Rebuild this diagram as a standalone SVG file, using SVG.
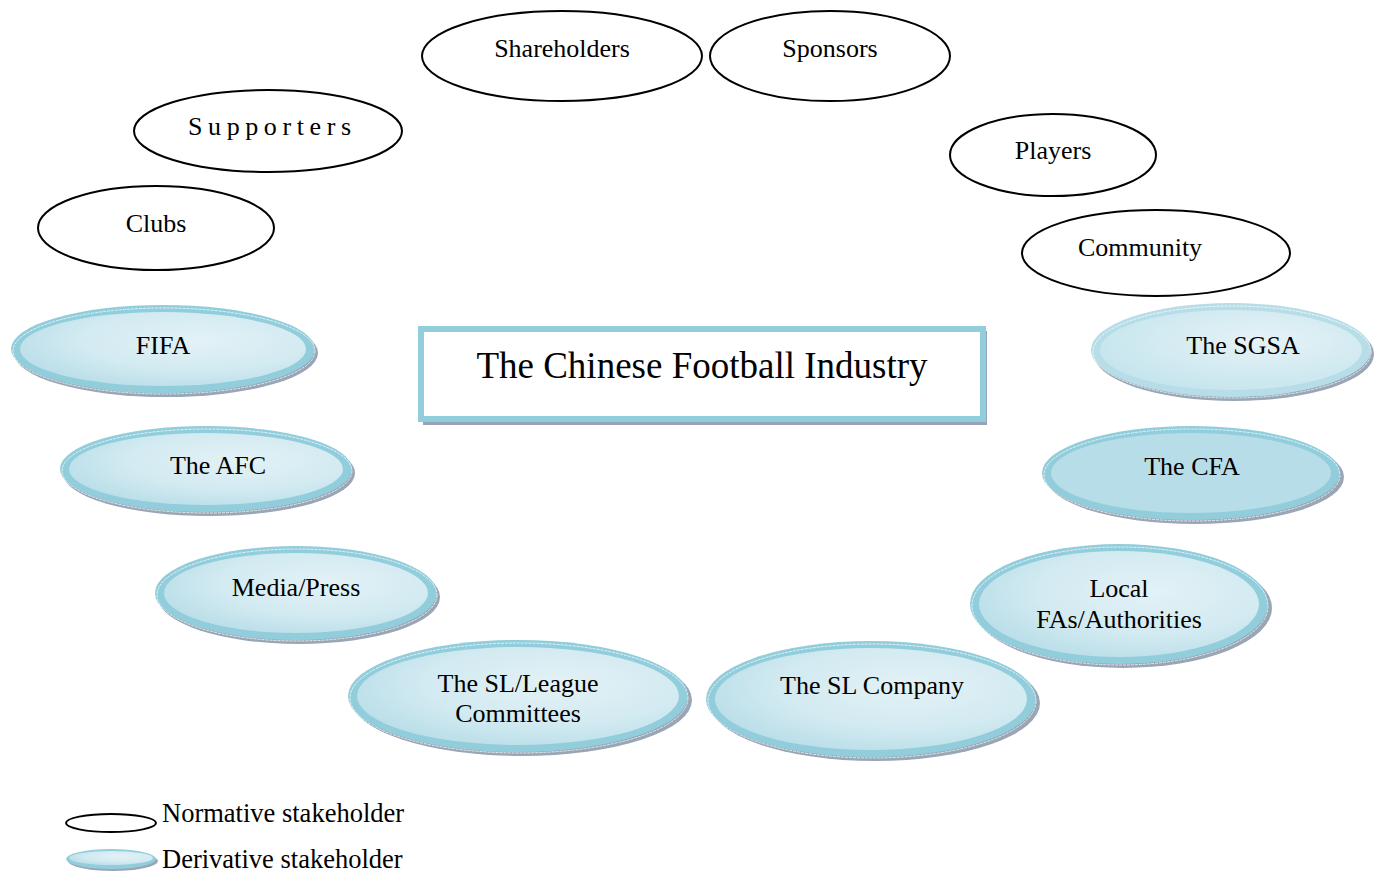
<svg xmlns="http://www.w3.org/2000/svg" width="1384" height="872" viewBox="0 0 1384 872">
<style>
text{font-family:"Liberation Serif","Times New Roman",serif;font-size:26px;fill:#000;text-anchor:middle}
.norm{fill:#fff;stroke:#000;stroke-width:2}
.shadow{fill:#98a6b6}
.ring{fill:#92cddc}
.hl{fill:none;stroke:#fff;stroke-width:1;stroke-dasharray:3 1;opacity:0.7}
.inner{fill:url(#g)}
</style>
<defs>
<radialGradient id="g" cx="0.62" cy="0.38" r="0.75">
<stop offset="0" stop-color="#e3f2f6"/>
<stop offset="0.55" stop-color="#d2eaf1"/>
<stop offset="1" stop-color="#b3dbe6"/>
</radialGradient>
<radialGradient id="g2" cx="0.62" cy="0.38" r="0.75">
<stop offset="0" stop-color="#e6f3f7"/>
<stop offset="1" stop-color="#c2e3ec"/>
</radialGradient>
</defs>

<g id="shareholders"><ellipse class="norm" cx="562" cy="56" rx="140" ry="45"/><text x="562" y="57">Shareholders</text></g>
<g id="sponsors"><ellipse class="norm" cx="830" cy="56" rx="120" ry="45"/><text x="830" y="57">Sponsors</text></g>
<g id="supporters"><ellipse class="norm" cx="268" cy="131" rx="134" ry="41"/><text x="188" y="135" style="text-anchor:start;letter-spacing:5.6px">Supporters</text></g>
<g id="clubs"><ellipse class="norm" cx="156" cy="228" rx="118" ry="42"/><text x="156" y="232">Clubs</text></g>
<g id="players"><ellipse class="norm" cx="1053" cy="155" rx="103" ry="41"/><text x="1053" y="159">Players</text></g>
<g id="community"><ellipse class="norm" cx="1156" cy="253" rx="134" ry="43"/><text x="1140" y="256">Community</text></g>

<g id="industry">
<rect x="423" y="331" width="564" height="94" fill="#97a3b8"/>
<rect x="421" y="329" width="562" height="90" fill="#fff" stroke="#92cddc" stroke-width="6"/>
<text x="702" y="378" style="font-size:37px">The Chinese Football Industry</text>
</g>

<g id="fifa">
<ellipse class="shadow" cx="166" cy="353" rx="152" ry="44"/>
<ellipse class="ring" cx="163" cy="349" rx="152" ry="44"/>
<ellipse class="hl" cx="164" cy="351" rx="151" ry="43"/>
<ellipse class="inner" cx="163" cy="349" rx="143" ry="37"/>
<text x="163" y="354">FIFA</text>
</g>
<g id="afc">
<ellipse class="shadow" cx="209" cy="473" rx="146" ry="43"/>
<ellipse class="ring" cx="206" cy="469" rx="146" ry="43"/>
<ellipse class="hl" cx="207" cy="471" rx="145" ry="42"/>
<ellipse class="inner" cx="206" cy="469" rx="137" ry="36"/>
<text x="218" y="474">The AFC</text>
</g>
<g id="media">
<ellipse class="shadow" cx="299" cy="597" rx="141" ry="47"/>
<ellipse class="ring" cx="296" cy="593" rx="141" ry="47"/>
<ellipse class="hl" cx="297" cy="595" rx="140" ry="46"/>
<ellipse class="inner" cx="296" cy="593" rx="132" ry="40"/>
<text x="296" y="596">Media/Press</text>
</g>
<g id="slleague">
<ellipse class="shadow" cx="522" cy="700" rx="170" ry="56"/>
<ellipse class="ring" cx="518" cy="696" rx="170" ry="56"/>
<ellipse class="hl" cx="519" cy="698" rx="169" ry="55"/>
<ellipse class="inner" cx="518" cy="696" rx="161" ry="49"/>
<text x="518" y="692">The SL/League</text>
<text x="518" y="722">Committees</text>
</g>
<g id="slcompany">
<ellipse class="shadow" cx="875" cy="703" rx="165" ry="58"/>
<ellipse class="ring" cx="871" cy="699" rx="165" ry="58"/>
<ellipse class="hl" cx="872" cy="701" rx="164" ry="57"/>
<ellipse class="inner" cx="871" cy="699" rx="156" ry="51"/>
<text x="872" y="694">The SL Company</text>
</g>
<g id="localfas">
<ellipse class="shadow" cx="1123" cy="608" rx="149" ry="60"/>
<ellipse class="ring" cx="1119" cy="604" rx="149" ry="60"/>
<ellipse class="hl" cx="1120" cy="606" rx="148" ry="59"/>
<ellipse class="inner" cx="1119" cy="604" rx="140" ry="53"/>
<text x="1119" y="597">Local</text>
<text x="1119" y="628">FAs/Authorities</text>
</g>
<g id="cfa">
<ellipse class="shadow" cx="1195" cy="477" rx="149" ry="47"/>
<ellipse class="ring" cx="1191" cy="473" rx="149" ry="47"/>
<ellipse class="hl" cx="1192" cy="475" rx="148" ry="46"/>
<ellipse cx="1191" cy="473" rx="140" ry="40" fill="#b7dde8"/>
<text x="1192" y="475">The CFA</text>
</g>
<g id="sgsa">
<ellipse class="shadow" cx="1234" cy="354" rx="140" ry="47"/>
<ellipse cx="1231" cy="350" rx="140" ry="47" fill="#b6dde8"/>
<ellipse class="hl" cx="1232" cy="352" rx="139" ry="46"/>
<ellipse cx="1231" cy="350" rx="131" ry="40" fill="url(#g2)"/>
<text x="1243" y="354">The SGSA</text>
</g>

<g id="connectors"></g>

<g id="legend">
<ellipse class="norm" cx="111" cy="823" rx="45" ry="9"/>
<text x="162" y="822" style="text-anchor:start;font-size:26.5px">Normative stakeholder</text>
<ellipse class="shadow" cx="113" cy="861" rx="45" ry="10"/>
<ellipse class="ring" cx="111" cy="859" rx="45" ry="10"/>
<ellipse class="inner" cx="111" cy="858" rx="42" ry="7"/>
<text x="162" y="868" style="text-anchor:start;font-size:26.5px">Derivative stakeholder</text>
</g>
</svg>
